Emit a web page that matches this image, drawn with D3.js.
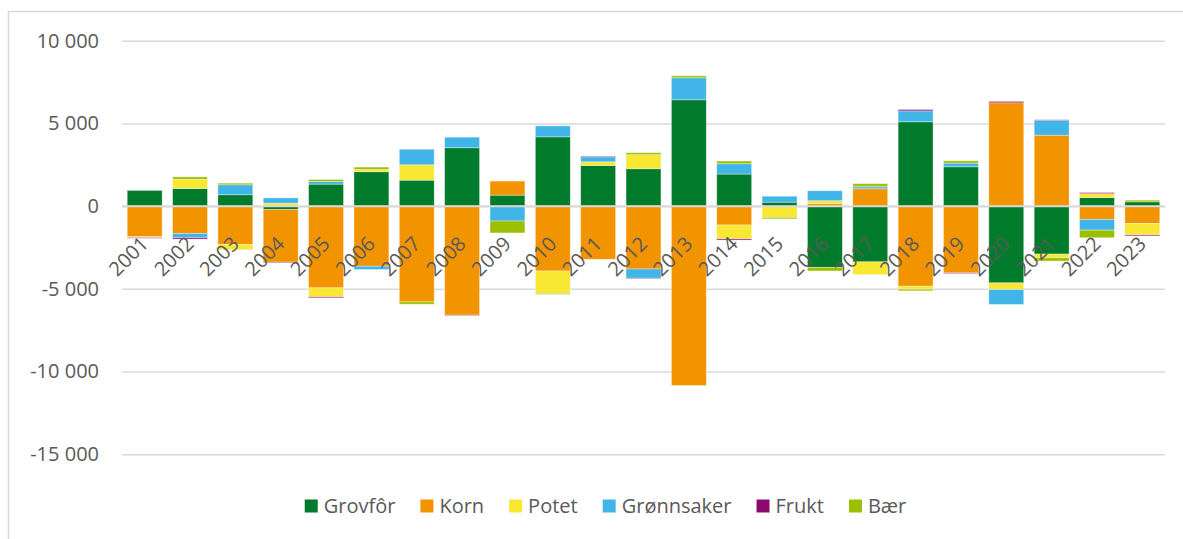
<!DOCTYPE html>
<html>
<head>
<meta charset="utf-8">
<script src="https://cdn.jsdelivr.net/npm/d3@7"></script>
<style>
  body { margin: 0; background: #fff; }
  svg { display: block; font-family: "Open Sans", sans-serif; }
</style>
</head>
<body>
<svg id="chart" width="1183" height="539"></svg>
<script>
// years on the x axis
const years = ["2001","2002","2003","2004","2005","2006","2007","2008","2009","2010","2011","2012",
  "2013","2014","2015","2016","2017","2018","2019","2020","2021","2022","2023"];

// one array per series, same order as years
const grovfor    = [950, 1070, 690, -200, 1330, 2080, 1570, 3530, 665, 4190, 2460, 2260, 6430, 1940, 240, -3700, -3370, 5100, 2380, -4640, -2900, 520, 260];
const korn       = [-1850, -1650, -2320, -3190, -4940, -3630, -5790, -6590, 850, -3920, -3210, -3800, -10840, -1140, 0, 150, 1050, -4840, -4030, 6250, 4290, -800, -1050];
const potet      = [-50, 560, -320, 180, -540, 140, 930, 0, 0, -1350, 220, 850, 0, -840, -680, 180, -770, -180, 0, -400, -220, 240, -690];
const gronnsaker = [0, -260, 600, 320, 160, -200, 940, 640, -900, 660, 300, -560, 1330, 625, 360, 600, 120, 660, 220, -900, 900, -650, 0];
const frukt      = [-40, -80, 0, -40, -60, 0, 0, -30, 0, 0, 40, -30, 0, -70, 0, 0, 30, 80, -40, 80, 30, 60, -60];
const baer       = [0, 140, 100, 0, 120, 140, -140, 0, -720, -60, 0, 120, 120, 160, -90, -220, 160, -100, 140, 0, -200, -460, 100];

const seriesNames = ["Grovfôr", "Korn", "Potet", "Grønnsaker", "Frukt", "Bær"];
const seriesColors = ["#007b2c", "#f29400", "#f8e733", "#42b5e8", "#8c0a6e", "#9cc000"];
const yTicks = [10000, 5000, 0, -5000, -10000, -15000];

const svg = d3.select("#chart");
const fontSize = 20;
const textColor = "#595959";

// rows for d3.stack
const seriesValues = [grovfor, korn, potet, gronnsaker, frukt, baer];
const rows = years.map((yr, i) => {
  let row = { year: yr };
  seriesNames.forEach((name, s) => { row[name] = seriesValues[s][i]; });
  return row;
});

const stacked = d3.stack()
  .keys(seriesNames)
  .offset(d3.stackOffsetDiverging)(rows);

const x = d3.scaleBand().domain(years).range([122, 1165]).paddingInner(0.23).paddingOuter(0.115);
const y = d3.scaleLinear().domain([-15000, 10000]).range([454.3, 40.7]);

// outer chart border (right and bottom fall outside the picture)
svg.append("rect")
  .attr("x", 8.5).attr("y", 11.5)
  .attr("width", 1300).attr("height", 700)
  .attr("fill", "none").attr("stroke", "#d9d9d9").attr("stroke-width", 1.5);

// gridlines + y labels (space as thousands separator, plain hyphen for minus)
const fmt = v => d3.format(",")(v).replace(/,/g, " ").replace("−", "-");
const yAxis = d3.axisLeft(y).tickValues(yTicks).tickSize(-(1165 - 122)).tickPadding(23).tickFormat(fmt);
const yG = svg.append("g").attr("transform", "translate(122,0)").call(yAxis);
yG.select(".domain").remove();
yG.selectAll(".tick line").attr("stroke", "#d9d9d9").attr("stroke-width", 1.5);
yG.selectAll(".tick text")
  .attr("fill", textColor)
  .style("font-size", fontSize + "px")
  .style("font-family", "'Open Sans', sans-serif");

// bars
const layers = svg.append("g").selectAll("g")
  .data(stacked)
  .join("g")
  .attr("fill", (d, i) => seriesColors[i]);

layers.selectAll("rect")
  .data(d => d.filter(p => p[1] !== p[0]))
  .join("rect")
  .attr("x", d => x(d.data.year))
  .attr("width", x.bandwidth())
  .attr("y", d => y(Math.max(d[0], d[1])))
  .attr("height", d => Math.abs(y(d[0]) - y(d[1])))
  .attr("stroke", "#fff")
  .attr("stroke-opacity", 0.45)
  .attr("stroke-width", 0.8);

// zero axis line over the bars
svg.append("line")
  .attr("x1", 122).attr("x2", 1165)
  .attr("y1", y(0)).attr("y2", y(0))
  .attr("stroke", "#d9d9d9").attr("stroke-width", 2);

// rotated category labels
svg.append("g").selectAll("text")
  .data(years)
  .join("text")
  .attr("transform", d => `translate(${x(d) + x.bandwidth() / 2 + 5},${y(0) + 39}) rotate(-45)`)
  .attr("text-anchor", "end")
  .attr("fill", textColor)
  .style("font-size", fontSize + "px")
  .text(d => d);

// legend, laid out from measured text widths
const legend = svg.append("g").attr("transform", "translate(0,506)");
const items = legend.selectAll("g").data(seriesNames).join("g");
items.append("rect")
  .attr("width", 13).attr("height", 13)
  .attr("y", -6.5)
  .attr("fill", (d, i) => seriesColors[i]);
items.append("text")
  .attr("x", 19)
  .attr("dy", "0.35em")
  .attr("fill", textColor)
  .style("font-size", fontSize + "px")
  .text(d => d);

let widths = [];
items.each(function () { widths.push(19 + d3.select(this).select("text").node().getComputedTextLength()); });
const gap = 25;
const total = d3.sum(widths) + gap * (widths.length - 1);
let cursor = 605.5 - total / 2;
items.attr("transform", (d, i) => {
  const tx = cursor;
  cursor += widths[i] + gap;
  return `translate(${tx},0)`;
});
</script>
</body>
</html>
